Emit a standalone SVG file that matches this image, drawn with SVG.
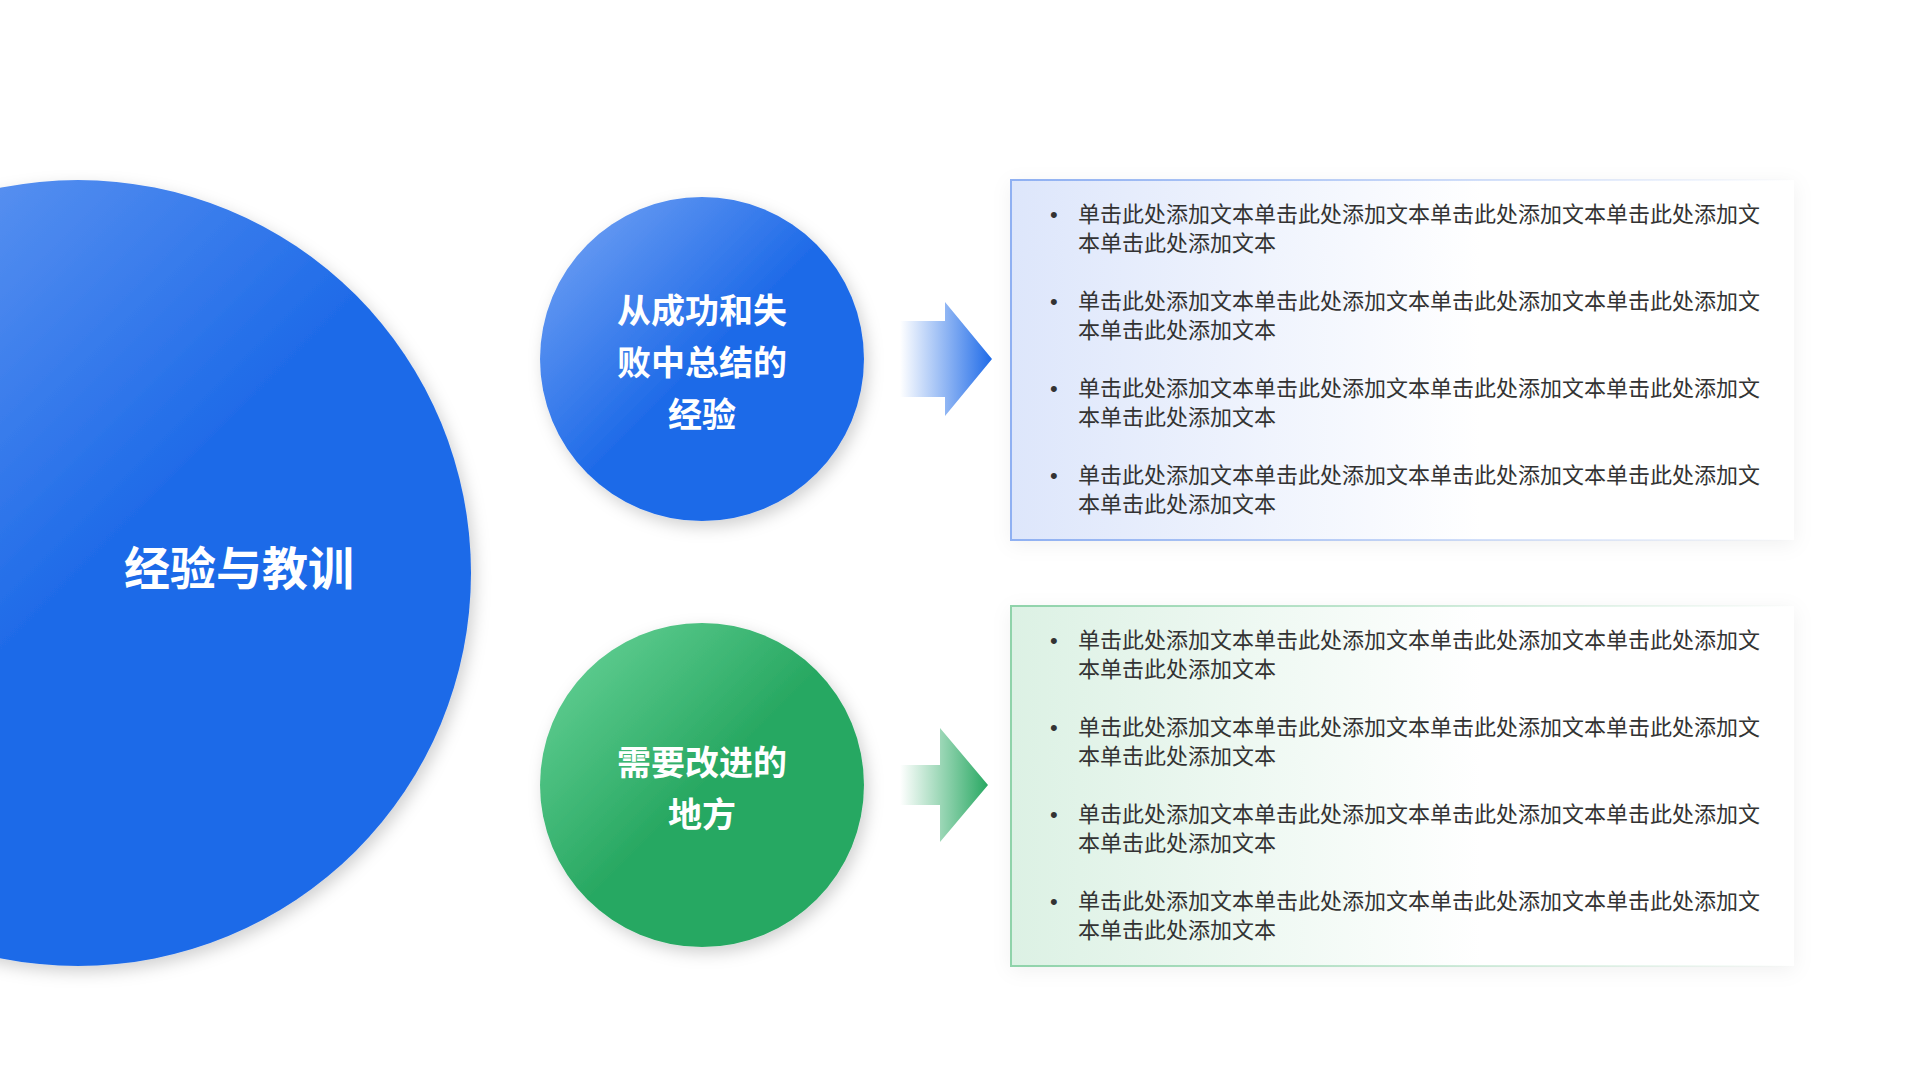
<svg xmlns="http://www.w3.org/2000/svg" width="1920" height="1080" viewBox="0 0 1920 1080">
<style>
.t{font-family:"Liberation Sans","Noto Sans CJK SC",sans-serif;font-size:22px;fill:#333}
.h{font-family:"Liberation Sans","Noto Sans CJK SC",sans-serif;font-weight:bold;fill:#fff;text-anchor:middle}
</style>
<defs>
<linearGradient id="gb" x1="0" y1="0" x2="1" y2="1"><stop offset="0" stop-color="#7aa7f5"/><stop offset="0.5" stop-color="#1f6be8"/><stop offset="1" stop-color="#1f6be8"/></linearGradient>
<linearGradient id="gg" x1="0" y1="0" x2="1" y2="1"><stop offset="0" stop-color="#6dd69c"/><stop offset="0.5" stop-color="#28a862"/><stop offset="1" stop-color="#28a862"/></linearGradient>
<linearGradient id="ab" x1="0" y1="0" x2="1" y2="0"><stop offset="0" stop-color="#1f6be8" stop-opacity="0"/><stop offset="1" stop-color="#1f6be8"/></linearGradient>
<linearGradient id="ag" x1="0" y1="0" x2="1" y2="0"><stop offset="0" stop-color="#28a862" stop-opacity="0"/><stop offset="1" stop-color="#28a862"/></linearGradient>
<linearGradient id="fb" x1="0" y1="0" x2="1" y2="0"><stop offset="0" stop-color="#dde6fb"/><stop offset="0.6" stop-color="#fff"/></linearGradient>
<linearGradient id="fg" x1="0" y1="0" x2="1" y2="0"><stop offset="0" stop-color="#dcf1e4"/><stop offset="0.6" stop-color="#fff"/></linearGradient>
<linearGradient id="sb" x1="0" y1="0" x2="1" y2="0"><stop offset="0" stop-color="#8fb0f2"/><stop offset="1" stop-color="#8fb0f2" stop-opacity="0"/></linearGradient>
<linearGradient id="sg" x1="0" y1="0" x2="1" y2="0"><stop offset="0" stop-color="#8fd3aa"/><stop offset="1" stop-color="#8fd3aa" stop-opacity="0"/></linearGradient>
<filter id="sh" x="-20%" y="-20%" width="140%" height="140%"><feDropShadow dx="4" dy="6" stdDeviation="8" flood-color="#000" flood-opacity="0.18"/></filter>
<filter id="bs" x="-10%" y="-10%" width="120%" height="130%"><feDropShadow dx="0" dy="4" stdDeviation="10" flood-color="#000" flood-opacity="0.06"/></filter>
<clipPath id="cl"><rect x="0" y="0" width="1920" height="1080"/></clipPath>
</defs>
<g id="main" clip-path="url(#cl)"><circle cx="78" cy="573" r="393" fill="url(#gb)" filter="url(#sh)"/>
<text class="h" x="239" y="585" font-size="46">经验与教训</text></g>
<g id="n1"><circle cx="702" cy="359" r="162" fill="url(#gb)" filter="url(#sh)"/>
<text class="h" font-size="34" x="702" y="323">从成功和失</text><text class="h" font-size="34" x="702" y="375">败中总结的</text><text class="h" font-size="34" x="702" y="427">经验</text></g>
<g id="n2"><circle cx="702" cy="785" r="162" fill="url(#gg)" filter="url(#sh)"/>
<text class="h" font-size="34" x="702" y="775">需要改进的</text><text class="h" font-size="34" x="702" y="827">地方</text></g>
<g id="connectors">
<polygon points="900,321 945,321 945,302 992,359 945,416 945,397 900,397" fill="url(#ab)"/>
<polygon points="900,765 940,765 940,728 988,785 940,842 940,805 900,805" fill="url(#ag)"/>
</g>
<g id="box1"><rect x="1011" y="180" width="783" height="360" fill="url(#fb)" filter="url(#bs)"/>
<path d="M1794,180H1011V540H1794" fill="none" stroke="url(#sb)" stroke-width="2"/>
<g class="t">
<text x="1050" y="222">•</text><text x="1078" y="222">单击此处添加文本单击此处添加文本单击此处添加文本单击此处添加文</text><text x="1078" y="251">本单击此处添加文本</text>
<text x="1050" y="309">•</text><text x="1078" y="309">单击此处添加文本单击此处添加文本单击此处添加文本单击此处添加文</text><text x="1078" y="338">本单击此处添加文本</text>
<text x="1050" y="396">•</text><text x="1078" y="396">单击此处添加文本单击此处添加文本单击此处添加文本单击此处添加文</text><text x="1078" y="425">本单击此处添加文本</text>
<text x="1050" y="483">•</text><text x="1078" y="483">单击此处添加文本单击此处添加文本单击此处添加文本单击此处添加文</text><text x="1078" y="512">本单击此处添加文本</text>
</g></g>
<g id="box2"><rect x="1011" y="606" width="783" height="360" fill="url(#fg)" filter="url(#bs)"/>
<path d="M1794,606H1011V966H1794" fill="none" stroke="url(#sg)" stroke-width="2"/>
<g class="t">
<text x="1050" y="648">•</text><text x="1078" y="648">单击此处添加文本单击此处添加文本单击此处添加文本单击此处添加文</text><text x="1078" y="677">本单击此处添加文本</text>
<text x="1050" y="735">•</text><text x="1078" y="735">单击此处添加文本单击此处添加文本单击此处添加文本单击此处添加文</text><text x="1078" y="764">本单击此处添加文本</text>
<text x="1050" y="822">•</text><text x="1078" y="822">单击此处添加文本单击此处添加文本单击此处添加文本单击此处添加文</text><text x="1078" y="851">本单击此处添加文本</text>
<text x="1050" y="909">•</text><text x="1078" y="909">单击此处添加文本单击此处添加文本单击此处添加文本单击此处添加文</text><text x="1078" y="938">本单击此处添加文本</text>
</g></g>
</svg>
